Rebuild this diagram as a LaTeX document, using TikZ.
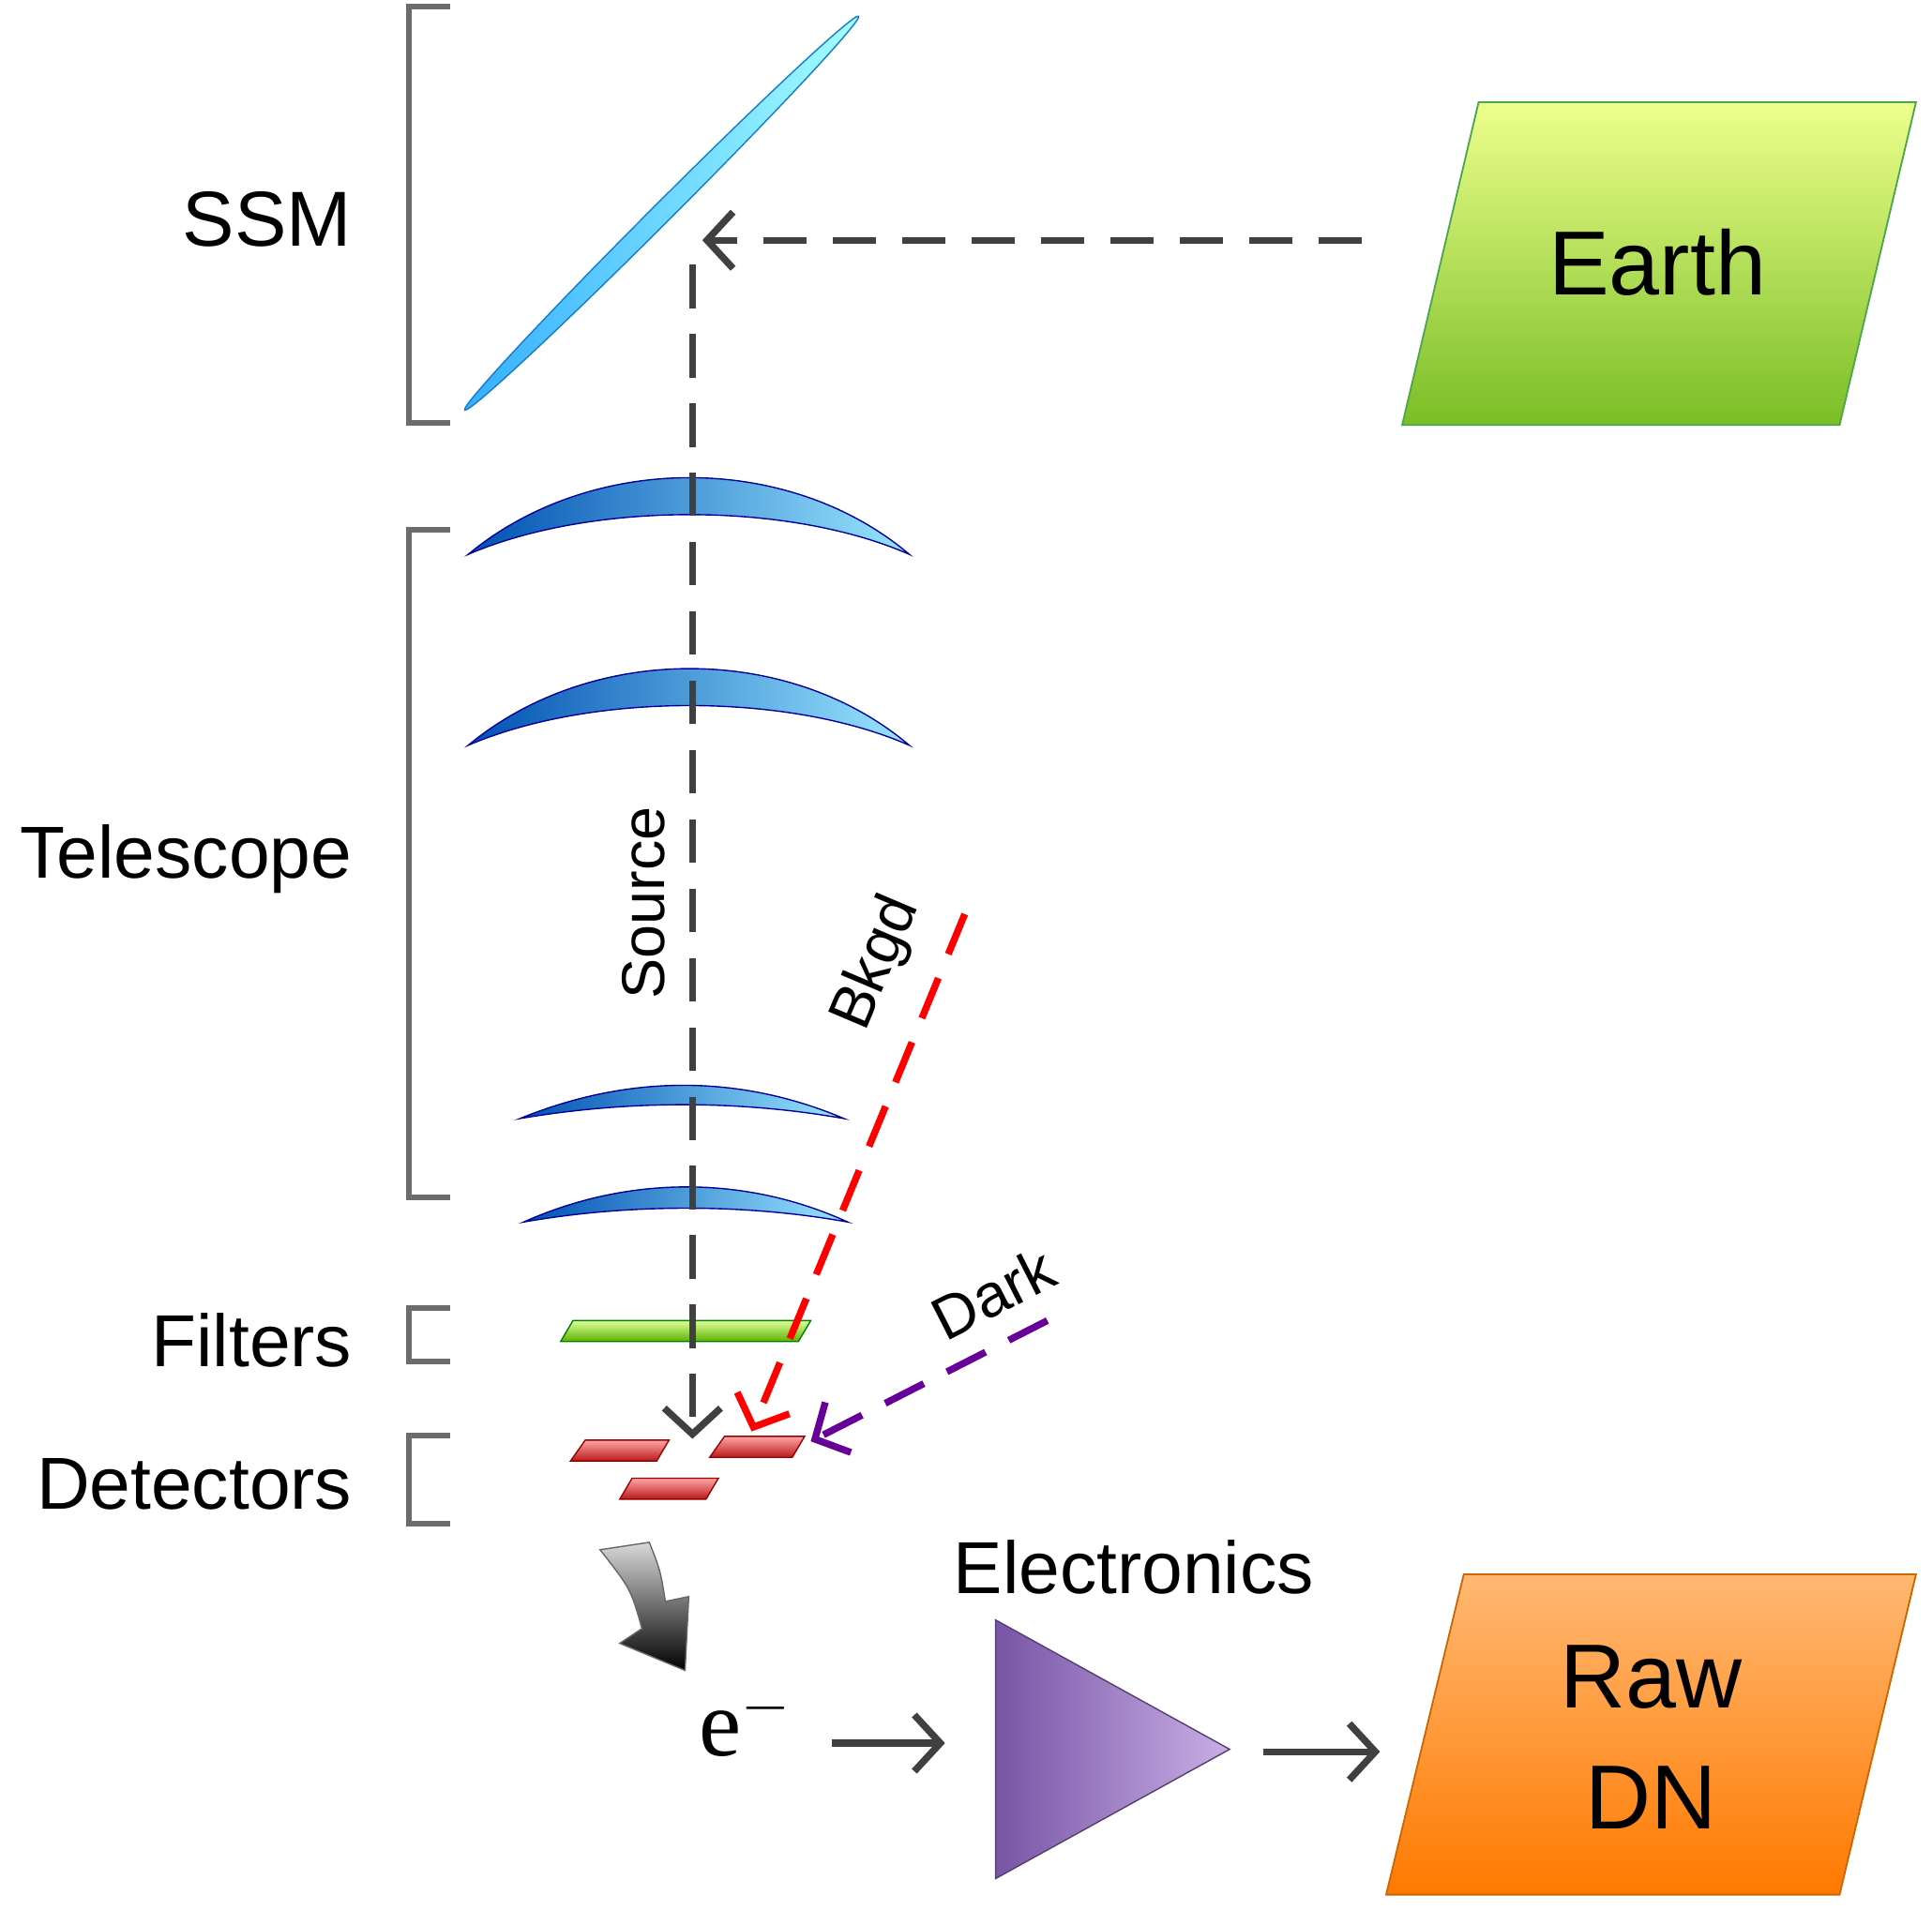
\documentclass[tikz,border=0pt]{standalone}
\usepackage{fontspec}
\setmainfont{Liberation Sans}
\newfontfamily\serf{Liberation Serif}
\usetikzlibrary{arrows.meta}
\definecolor{purpA}{RGB}{120,85,165}
\definecolor{purpB}{RGB}{200,175,230}
\begin{document}
\begin{tikzpicture}[x=0.01cm,y=-0.01cm,
  brk/.style={draw=gray!85!black,line width=1.3pt},
  lab/.style={anchor=east,font=\fontsize{17}{20}\selectfont},
  lens/.style={left color=blue!55!cyan!70!black,right color=blue!25!cyan!40,draw=blue!60!black,line width=0.3pt},
  dsh/.style={line width=1.6pt,dash pattern=on 10pt off 6pt,-{Straight Barb[length=6pt,width=13pt,line width=1.6pt]}},
  sol/.style={line width=1.6pt,draw=black!75,-{Straight Barb[length=6pt,width=13pt,line width=1.6pt]}}]
\useasboundingbox (0,0) rectangle (1568,1562);
% brackets
\draw[brk] (365,5) -- (332,5) -- (332,343) -- (365,343);
\draw[brk] (365,430) -- (332,430) -- (332,972) -- (365,972);
\draw[brk] (365,1062) -- (332,1062) -- (332,1105) -- (365,1105);
\draw[brk] (365,1165) -- (332,1165) -- (332,1237) -- (365,1237);
\node[lab,font=\fontsize{18}{22}\selectfont] (ssm) at (298,178) {SSM};
\node[lab] (tel) at (298,697) {Telescope};
\node[lab] (fil) at (298,1088) {Filters};
\node[lab] (det) at (298,1205) {Detectors};
% mirror
\shade[left color=cyan!60!blue!80,right color=cyan!35,draw=cyan!60!blue,line width=0.3pt,rotate around={45:(537,173)}] (537,173) ellipse (226 and 8);
% lenses
\path[lens] (380,450) .. controls (480,367) and (640,367) .. (738,450) .. controls (640,407) and (480,407) .. (380,450) -- cycle;
\path[lens] (380,605) .. controls (480,522) and (640,522) .. (738,605) .. controls (640,562) and (480,562) .. (380,605) -- cycle;
\path[lens] (422,908) .. controls (510,872) and (600,872) .. (685,908) .. controls (600,893) and (510,893) .. (422,908) -- cycle;
\path[lens] (425,992) .. controls (510,954) and (605,954) .. (688,992) .. controls (605,977) and (510,977) .. (425,992) -- cycle;
% filter and detectors
\path[top color=green!30!yellow!40,bottom color=green!50!yellow!70!black,draw=green!50!black,line width=0.3pt] (465,1072) -- (658,1072) -- (648,1089) -- (455,1089) -- cycle;
\path[top color=red!35,bottom color=red!70!black!90,draw=red!60!black,line width=0.3pt] (475,1169) -- (543,1169) -- (533,1186) -- (463,1186) -- cycle;
\path[top color=red!35,bottom color=red!70!black!90,draw=red!60!black,line width=0.3pt] (588,1166) -- (653,1166) -- (643,1183) -- (576,1183) -- cycle;
\path[top color=red!35,bottom color=red!70!black!90,draw=red!60!black,line width=0.3pt] (513,1200) -- (583,1200) -- (573,1217) -- (503,1217) -- cycle;
% Earth
\path[top color=green!15!yellow!45,bottom color=green!45!yellow!70!black!85,draw=green!50!black!70,line width=0.4pt] (1200,83) -- (1555,83) -- (1493,345) -- (1138,345) -- cycle;
\node[font=\fontsize{21}{26}\selectfont] (earth) at (1345,213) {Earth};
% light paths
\coordinate (e0) at (1105,195);
\coordinate (e1) at (570,195);
\coordinate (s0) at (562,215);
\coordinate (s1) at (562,1168);
\draw[dsh,draw=black!75] (e0) -- (e1);
\draw[dsh,draw=black!75] (s0) -- (s1);
\node[rotate=90,font=\fontsize{14}{16}\selectfont] (src) at (522,733) {Source};
\coordinate (b0) at (783,742);
\coordinate (b1) at (610,1162);
\draw[dsh,draw=red] (b0) -- (b1);
\node[rotate=67,font=\fontsize{14}{16}\selectfont] (bk) at (712,782) {Bkgd};
\coordinate (d0) at (850,1072);
\coordinate (d1) at (658,1170);
\draw[dsh,draw=violet!80!blue] (d0) -- (d1);
\node[rotate=27,font=\fontsize{14}{16}\selectfont] (dk) at (806,1050) {Dark};
% curved block arrow
\path[top color=black!15,bottom color=black,draw=black!60,line width=0.3pt] (487,1258) -- (527,1252) .. controls (536,1275) .. (540,1300) -- (559,1296) -- (556,1356) -- (503,1334) -- (521,1322) .. controls (512,1290) .. (487,1258) -- cycle;
% electronics
\node[font=\fontsize{22}{24}\serf] (el) at (605,1398) {e$^{-}$};
\path[left color=purpA,right color=purpB,draw=purpA!70!black,line width=0.3pt] (808,1315) -- (998,1420) -- (808,1525) -- cycle;
\node[font=\fontsize{17}{20}\selectfont] (eltxt) at (920,1272) {Electronics};
\path[top color=orange!55,bottom color=orange!95!red,draw=orange!80!black,line width=0.4pt] (1188,1278) -- (1555,1278) -- (1493,1538) -- (1125,1538) -- cycle;
\node[align=center,font=\fontsize{21}{28}\selectfont] (raw) at (1340,1410) {Raw\\DN};
\coordinate (a0) at (675,1415);
\coordinate (a1) at (767,1415);
\coordinate (a2) at (1025,1422);
\coordinate (a3) at (1120,1422);
\draw[sol] (a0) -- (a1);
\draw[sol] (a2) -- (a3);
\end{tikzpicture}
\end{document}
